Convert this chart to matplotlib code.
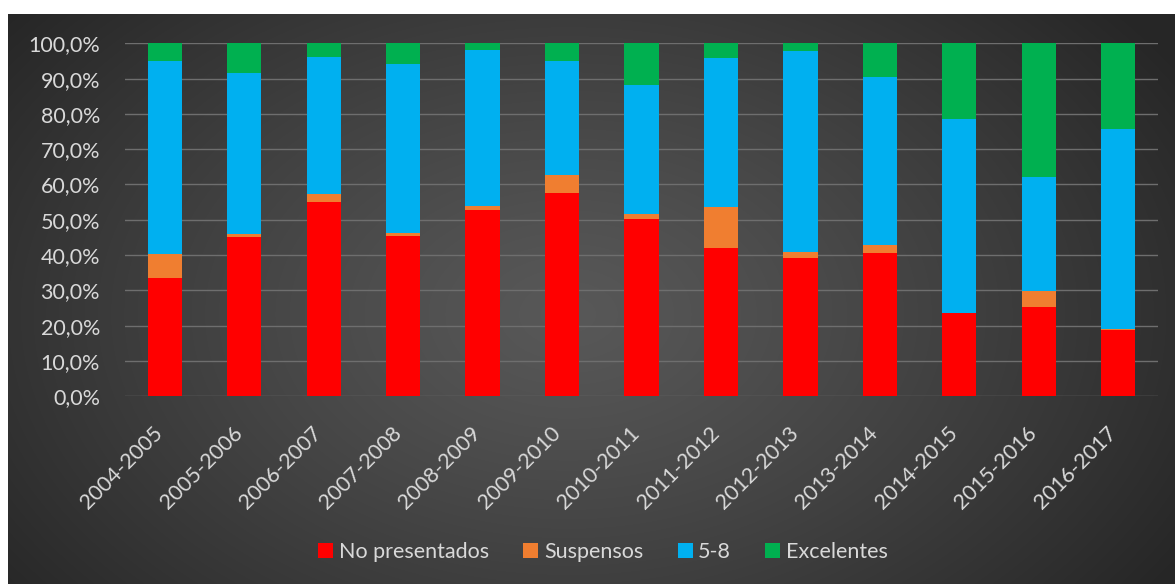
import numpy as np
import matplotlib
matplotlib.use("Agg")
import matplotlib.pyplot as plt
import matplotlib.transforms as mtransforms
from matplotlib.ticker import FuncFormatter, MultipleLocator

categories = ["2004-2005", "2005-2006", "2006-2007", "2007-2008", "2008-2009",
              "2009-2010", "2010-2011", "2011-2012", "2012-2013", "2013-2014",
              "2014-2015", "2015-2016", "2016-2017"]
no_presentados = [33.4, 45.0, 55.1, 45.4, 52.7, 57.5, 50.2, 41.9, 39.2, 40.7, 23.7, 25.3, 18.9]
suspensos      = [6.8, 1.1, 2.3, 1.0, 1.1, 5.2, 1.4, 11.8, 1.7, 2.3, 0.0, 4.5, 0.3]
cinco_ocho     = [54.8, 45.6, 38.7, 47.6, 44.4, 32.3, 36.6, 42.1, 56.9, 47.5, 54.8, 32.3, 56.4]
excelentes     = [5.0, 8.3, 3.9, 6.0, 1.8, 5.0, 11.8, 4.2, 2.2, 9.5, 21.5, 37.9, 24.4]
series_names = ["No presentados", "Suspensos", "5-8", "Excelentes"]
colors = ["#FF0000", "#F07E30", "#00B0F0", "#00B050"]

plt.rcParams['font.family'] = ['Lato', 'DejaVu Sans']
W, H = 1175, 584
fig = plt.figure(figsize=(W / 100, H / 100), dpi=100, facecolor="white")

# dark radial-gradient background
bg = fig.add_axes([8 / W, 0, 1 - 8 / W, (H - 14) / H])
bg.set_axis_off()
yy, xx = np.mgrid[0:570, 0:1167]
cx, cy = 560, 300
r = np.sqrt(((xx - cx) / 720.0) ** 2 + ((yy - cy) / 480.0) ** 2)
r = np.clip(r, 0, 1)
c0, c1 = 0x58, 0x26
val = (c0 + (c1 - c0) * r ** 1.2) / 255.0
img = np.dstack([val, val, val])
bg.imshow(img, aspect="auto", extent=[0, 1, 0, 1], interpolation="bilinear")
bg.set_xlim(0, 1)
bg.set_ylim(0, 1)

ax = fig.add_axes([125 / W, 1 - 396.3 / H, (1158 - 125) / W, (396.3 - 43.3) / H])
ax.set_facecolor("none")

x = np.arange(len(categories))
bottom = np.zeros(len(categories))
for name, vals, col in zip(series_names, [no_presentados, suspensos, cinco_ocho, excelentes], colors):
    vals = np.array(vals)
    ax.bar(x, vals, 0.43, bottom=bottom, color=col, label=name, zorder=3)
    bottom += vals

ax.set_xlim(-0.5, len(categories) - 0.5)
ax.set_ylim(0, 100)
ax.yaxis.set_major_locator(MultipleLocator(10))
ax.yaxis.set_major_formatter(FuncFormatter(lambda v, p: f"{v:.1f}%".replace(".", ",")))
ax.grid(axis="y", color="#6e6e6e", linewidth=1, zorder=0)
ax.set_axisbelow(True)
for s in ax.spines.values():
    s.set_visible(False)
ax.tick_params(axis="y", length=0, pad=18, labelsize=15.5, labelcolor="#d9d9d9")
ax.tick_params(axis="x", length=0, pad=24, labelsize=15.5, labelcolor="#d9d9d9")
ax.set_xticks(x)
ax.set_xticklabels(categories, rotation=45, ha="right", va="center", rotation_mode="anchor")
shift = mtransforms.ScaledTranslation(-5 / 100, 0, fig.dpi_scale_trans)
for lbl in ax.get_xticklabels():
    lbl.set_transform(lbl.get_transform() + shift)

handles, labels = ax.get_legend_handles_labels()
leg = fig.legend(handles, labels, loc="center", bbox_to_anchor=(603 / W, 1 - 552 / H),
                 ncol=4, frameon=False, fontsize=15.5, handlelength=0.7, handleheight=0.7,
                 handletextpad=0.25, columnspacing=1.6)
for t in leg.get_texts():
    t.set_color("#d9d9d9")

fig.savefig("out.png", dpi=100, facecolor="white")
